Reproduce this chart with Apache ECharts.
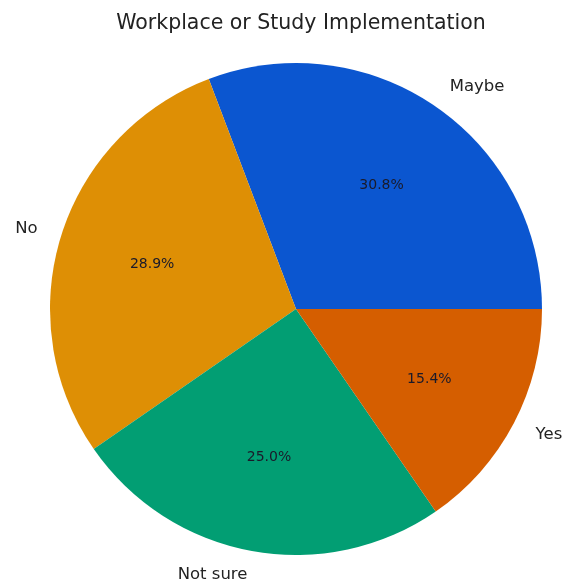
<!DOCTYPE html>
<html>
<head>
<meta charset="utf-8">
<script src="https://cdn.jsdelivr.net/npm/echarts@6/dist/echarts.min.js"></script>
<style>
  html, body { margin: 0; padding: 0; background: #fff; }
  #chart { width: 568px; height: 587px; }
</style>
</head>
<body>
<div id="chart"></div>
<script>
// Share of responses per answer (percent)
const categories = ['Maybe', 'No', 'Not sure', 'Yes'];
const shares = [30.8, 28.9, 25.0, 15.4];
const colors = ['#0b56d0', '#de8f05', '#029e73', '#d55e00'];

const R = 246;
const center = [296, 309];
const font = '"DejaVu Sans", sans-serif';

const slices = categories.map((name, i) => ({
  name: name,
  value: shares[i],
  itemStyle: { color: colors[i] }
}));

const chart = echarts.init(document.getElementById('chart'), null, { renderer: 'canvas' });
chart.setOption({
  animation: false,
  backgroundColor: '#ffffff',
  title: {
    // centred over the pie rather than the canvas
    text: 'Workplace or Study Implementation',
    left: center[0],
    textAlign: 'center',
    top: 8,
    textStyle: { fontFamily: font, fontSize: 20.5, fontWeight: 'normal', color: '#222' }
  },
  series: [
    {
      // coloured wedges with category names just outside the rim
      type: 'pie',
      center: center,
      radius: [0, R],
      startAngle: 0,
      clockwise: false,
      avoidLabelOverlap: false,
      minShowLabelAngle: 0,
      silent: true,
      data: slices,
      itemStyle: { borderWidth: 0 },
      label: {
        show: true,
        position: 'outside',
        formatter: '{b}',
        fontFamily: font,
        fontSize: 16.5,
        color: '#222',
        distanceToLabelLine: 0
      },
      labelLine: { show: false, length: R * 0.1, length2: 0 }
    },
    {
      // transparent copy whose inner labels sit at 0.6 of the radius
      type: 'pie',
      center: center,
      radius: [0, R * 1.2],
      startAngle: 0,
      clockwise: false,
      silent: true,
      z: 3,
      data: categories.map((name, i) => ({ name: name, value: shares[i] })),
      itemStyle: { color: 'rgba(0,0,0,0)' },
      label: {
        show: true,
        position: 'inner',
        formatter: (p) => p.value.toFixed(1) + '%',
        fontFamily: font,
        fontSize: 14,
        color: '#1a1a2a'
      },
      labelLine: { show: false }
    }
  ]
});
</script>
</body>
</html>
